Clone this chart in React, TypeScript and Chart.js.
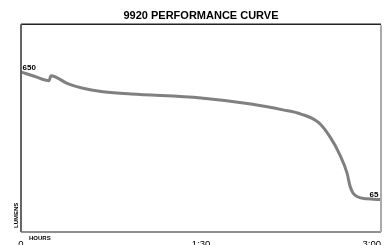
import React, { useEffect, useRef } from "react";
import { Chart, registerables } from "chart.js";

Chart.register(...registerables);

const minutes = [0, 7, 14, 15, 23, 31, 40, 55, 90, 115, 131, 140, 149, 154.5, 159.5, 163, 164.5, 166, 168, 173, 180];
const lumens = [650, 629, 610, 633, 598, 575, 560, 549, 531, 503, 476, 457, 416, 352, 269, 187, 127, 95, 79, 68, 65];
const tickValues = [0, 90, 180];
const tickLabels = ["0", "1:30", "3:00"];
const titleText = "9920 PERFORMANCE CURVE";
const xTitle = "HOURS";
const yTitle = "LUMENS";

const FONT = "'Liberation Sans', Arial, sans-serif";

const decorPlugin = {
  id: "decor",
  afterDatasetsDraw(chart: any) {
    const { ctx, chartArea: a, scales } = chart;
    ctx.save();
    // frame
    ctx.lineCap = "butt";
    ctx.strokeStyle = "#222";
    ctx.lineWidth = 1.5;
    ctx.beginPath();
    ctx.moveTo(a.left, a.top);
    ctx.lineTo(a.right, a.top);
    ctx.stroke();
    ctx.lineWidth = 1.2;
    ctx.beginPath();
    ctx.moveTo(a.left, a.bottom);
    ctx.lineTo(a.right, a.bottom);
    ctx.stroke();
    ctx.strokeStyle = "#666";
    ctx.lineWidth = 2;
    ctx.beginPath();
    ctx.moveTo(a.left, a.top);
    ctx.lineTo(a.left, a.bottom);
    ctx.stroke();
    ctx.strokeStyle = "#aaa";
    ctx.beginPath();
    ctx.moveTo(a.right, a.top + 1);
    ctx.lineTo(a.right, a.bottom);
    ctx.stroke();

    // tick labels
    ctx.fillStyle = "#000";
    ctx.font = `9.5px ${FONT}`;
    ctx.textBaseline = "top";
    tickValues.forEach((v, i) => {
      const x = scales.x.getPixelForValue(v);
      ctx.textAlign = i === tickValues.length - 1 ? "right" : "center";
      ctx.fillText(tickLabels[i], x, a.bottom + 8);
    });

    // axis titles
    ctx.font = `bold 6px ${FONT}`;
    ctx.textAlign = "left";
    ctx.textBaseline = "middle";
    ctx.fillText(xTitle, a.left + 8, a.bottom + 6.5);
    ctx.save();
    ctx.translate(a.left - 5, a.bottom - 4);
    ctx.rotate(-Math.PI / 2);
    ctx.textAlign = "left";
    ctx.fillText(yTitle, 0, 0);
    ctx.restore();

    // end labels
    const meta = chart.getDatasetMeta(0);
    const first = meta.data[0];
    const last = meta.data[meta.data.length - 1];
    ctx.font = `bold 8px ${FONT}`;
    ctx.textBaseline = "alphabetic";
    ctx.textAlign = "left";
    ctx.fillText(String(lumens[0]), first.x + 1.5, first.y - 1.5);
    ctx.textAlign = "right";
    ctx.fillText(String(lumens[lumens.length - 1]), last.x - 2.5, last.y - 2.5);
    ctx.restore();
  },
};

export default function App() {
  const ref = useRef<HTMLCanvasElement | null>(null);
  useEffect(() => {
    if (!ref.current) return;
    const chart = new Chart(ref.current, {
      type: "line",
      data: {
        datasets: [
          {
            data: minutes.map((m, i) => ({ x: m, y: lumens[i] })),
            borderColor: "#808080",
            borderWidth: 3,
            pointRadius: 0,
            cubicInterpolationMode: "monotone",
            fill: false,
          },
        ],
      },
      options: {
        animation: false,
        responsive: false,
        layout: { padding: { left: 21, right: 7, top: 0, bottom: 13 } },
        plugins: {
          legend: { display: false },
          tooltip: { enabled: false },
          title: {
            display: true,
            text: titleText,
            color: "#000",
            font: { family: FONT, size: 11, weight: "bold" },
            padding: { top: 9, bottom: 2 },
          },
        },
        scales: {
          x: { type: "linear", min: 0, max: 180, display: false },
          y: { type: "linear", min: -84, max: 869, display: false },
        },
      },
      plugins: [decorPlugin],
    });
    return () => chart.destroy();
  }, []);
  return (
    <div style={{ position: "fixed", left: 0, top: 0, width: 388, height: 245, background: "#fff" }}>
      <canvas ref={ref} width={388} height={245} style={{ display: "block" }} />
    </div>
  );
}
